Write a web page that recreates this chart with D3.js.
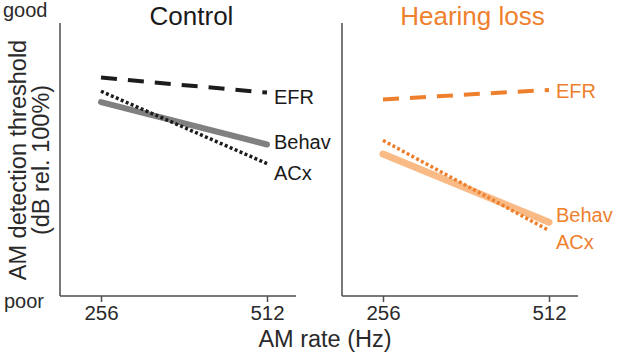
<!DOCTYPE html>
<html>
<head>
<meta charset="utf-8">
<script src="https://cdn.jsdelivr.net/npm/d3@7"></script>
<style>
  body { margin: 0; background: #fff; }
  svg { font-family: "Liberation Sans", Arial, sans-serif; }
</style>
</head>
<body>
<div id="chart"></div>
<script>
// AM rates (Hz) and panel titles
const rates = [256, 512];
const panelTitles = ['Control', 'Hearing loss'];
const seriesNames = ['EFR', 'Behav', 'ACx'];

// thresholds in arbitrary units, 0 = poor, 100 = good
const controlEFR = [80, 74.5];
const controlBehav = [71, 55.5];
const controlACx = [75, 48.5];

const hearingEFR = [72, 75.5];
const hearingBehav = [52, 27];
const hearingACx = [57, 24];

const panels = [
    {title: panelTitles[0], series: [controlEFR, controlBehav, controlACx]},
    {title: panelTitles[1], series: [hearingEFR, hearingBehav, hearingACx]}
];

// Set up dimensions
const W = 617, H = 358;
const axisTop = 23, axisBottom = 296, axisWidth = 236;
const panelX = [60, 342];

const svg = d3.select('#chart')
    .append('svg')
    .attr('width', W)
    .attr('height', H);

const yScale = d3.scaleLinear()
    .domain([0, 100])
    .range([axisBottom, axisTop]);

const xScale = d3.scaleLog()
    .base(2)
    .domain(rates)
    .range([41, 207]);

// per panel styles: colors, widths, dashes
const styles = [
    [
        {color: '#1c1c1c', width: 4, dash: '16,11', cap: 'butt'},
        {color: '#808080', width: 6, dash: null, cap: 'round'},
        {color: '#1c1c1c', width: 3.5, dash: '3,2.4', cap: 'butt'}
    ],
    [
        {color: '#ee7f2d', width: 4, dash: '16,11', cap: 'butt'},
        {color: '#f9ba86', width: 7, dash: null, cap: 'round'},
        {color: '#ee7f2d', width: 3.5, dash: '3,2.4', cap: 'butt'}
    ]
];
const textColors = ['#1a1a1a', '#ee7f2d'];
// label offsets from line end (px)
const labelDy = [[4, -2, 9], [1, -7, 12]];

const line = d3.line()
    .x((d, i) => xScale(rates[i]))
    .y(d => yScale(d));

panels.forEach((panel, p) => {
    const g = svg.append('g')
        .attr('transform', `translate(${panelX[p]}, 0)`);

    // y axis line (no ticks)
    g.append('line')
        .attr('x1', 0).attr('x2', 0)
        .attr('y1', axisTop).attr('y2', axisBottom)
        .attr('stroke', '#4d4d4d')
        .attr('stroke-width', 1.5);

    // x axis
    const xAxis = g.append('g')
        .attr('transform', `translate(0, ${axisBottom})`)
        .call(d3.axisBottom(xScale)
            .tickValues(rates)
            .tickFormat(d3.format('d'))
            .tickSize(6)
            .tickPadding(3));
    xAxis.select('.domain').remove();
    xAxis.selectAll('.tick line')
        .attr('stroke', '#4d4d4d')
        .attr('stroke-width', 1.5);
    xAxis.selectAll('.tick text')
        .attr('fill', '#2a2a2a')
        .style('font-size', '20.5px');
    g.append('line')
        .attr('x1', 0).attr('x2', axisWidth)
        .attr('y1', axisBottom).attr('y2', axisBottom)
        .attr('stroke', '#4d4d4d')
        .attr('stroke-width', 1.5);

    // series lines
    panel.series.forEach((vals, s) => {
        const st = styles[p][s];
        g.append('path')
            .datum(vals)
            .attr('d', line)
            .attr('fill', 'none')
            .attr('stroke', st.color)
            .attr('stroke-width', st.width)
            .attr('stroke-linecap', st.cap)
            .attr('stroke-dasharray', st.dash);
    });

    // series labels
    panel.series.forEach((vals, s) => {
        g.append('text')
            .attr('x', xScale(rates[1]) + 7)
            .attr('y', yScale(vals[1]) + labelDy[p][s])
            .attr('dy', '0.35em')
            .attr('fill', textColors[p])
            .style('font-size', '20px')
            .text(seriesNames[s]);
    });

    // title
    g.append('text')
        .attr('x', p === 0 ? 131.5 : 130.5)
        .attr('y', 25)
        .attr('text-anchor', 'middle')
        .attr('fill', textColors[p])
        .style('font-size', '26px')
        .text(panel.title);
});

// good / poor
svg.append('text')
    .attr('x', 3).attr('y', 17)
    .attr('fill', '#2a2a2a')
    .style('font-size', '20px')
    .text('good');
svg.append('text')
    .attr('x', 4).attr('y', 308)
    .attr('fill', '#2a2a2a')
    .style('font-size', '20px')
    .text('poor');

// y label
const yl = svg.append('text')
    .attr('transform', 'translate(26, 160) rotate(-90)')
    .attr('text-anchor', 'middle')
    .attr('fill', '#2a2a2a')
    .style('font-size', '23.5px');
yl.append('tspan').attr('x', 0).attr('y', 0).text('AM detection threshold');
yl.append('tspan').attr('x', 0).attr('y', 23).text('(dB rel. 100%)');

// x label
svg.append('text')
    .attr('x', 325)
    .attr('y', 347)
    .attr('text-anchor', 'middle')
    .attr('fill', '#2a2a2a')
    .style('font-size', '23.5px')
    .text('AM rate (Hz)');
</script>
</body>
</html>
